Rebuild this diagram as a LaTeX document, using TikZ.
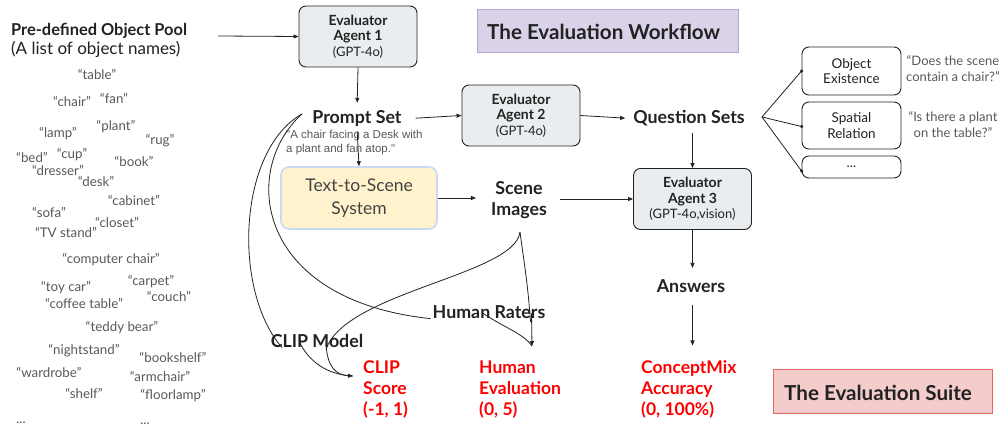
\documentclass[tikz,border=0pt]{standalone}
\usepackage{fontspec}
\setmainfont{Lato}
\newfontfamily\arialf{Liberation Sans}
\usetikzlibrary{arrows.meta}
\definecolor{agentfill}{HTML}{E9EDEF}
\definecolor{labcol}{HTML}{222222}
\definecolor{objcol}{HTML}{595959}
\definecolor{tsfill}{HTML}{FFF2CC}
\definecolor{tsborder}{HTML}{C9DAF8}
\definecolor{tstext}{HTML}{434343}
\definecolor{wffill}{HTML}{D9D2E9}
\definecolor{wfborder}{HTML}{B4A7D6}
\definecolor{sufill}{HTML}{F4CCCC}
\definecolor{suborder}{HTML}{E06666}
\definecolor{redtxt}{HTML}{FF0000}
\newcommand{\agb}[1]{{\bfseries\fontsize{14}{15.5}\selectfont #1}}
\newcommand{\agr}[1]{{\fontsize{13}{15.5}\selectfont #1}}
\begin{document}
\begin{tikzpicture}[x=1pt,y=-1pt,
  arr/.style={-{Triangle[length=5pt,width=4pt]}, line width=0.8pt, draw=labcol},
  con/.style={line width=0.8pt, draw=labcol},
  agent/.style={draw=labcol, fill=agentfill, rounded corners=7pt, line width=0.9pt,
    minimum width=118pt, minimum height=61pt, align=center, text=labcol,
    font=\fontsize{13}{15.5}\selectfont},
  rbox/.style={draw=labcol, fill=white, rounded corners=7pt, line width=0.9pt,
    minimum width=99pt, align=center, text=labcol, font=\fontsize{13.5}{15.5}\selectfont},
  lab/.style={inner sep=0pt, text=labcol, align=center, font=\bfseries\fontsize{17.8}{21}\selectfont},
  redlab/.style={inner sep=0pt, text=redtxt, align=left, anchor=north west, font=\bfseries\fontsize{17.5}{21}\selectfont},
  obj/.style={inner sep=0pt, anchor=base, text=objcol, font=\fontsize{13.3}{14}\selectfont},
  rq/.style={inner sep=0pt, align=center, anchor=north, text=objcol, font=\fontsize{13}{16}\selectfont},
  title/.style={inner sep=0pt, anchor=west, text=labcol, font=\bfseries\fontsize{20.6}{24}\selectfont},
  dot/.style={circle, fill=labcol, inner sep=0pt, minimum size=3.4pt}
]
\useasboundingbox (0,0) rectangle (1002,427);
\fill[white] (0,0) rectangle (1002,427);

% title boxes
\node[draw=wfborder, fill=wffill, line width=0.8pt, minimum width=261pt, minimum height=43pt, inner sep=0pt] (wfbox) at (607.5,30.5) {};
\node[title] (wf) at (487,31.5) {The Evaluation Workflow};
\node[draw=suborder, fill=sufill, line width=0.8pt, minimum width=219pt, minimum height=44pt, inner sep=0pt] (subox) at (882.5,391) {};
\node[title] (su) at (784,392.5) {The Evaluation Suite};

% object pool
\node[inner sep=0pt, anchor=north west, align=left, text=labcol, font=\fontsize{17}{19}\selectfont] (pool) at (11,23.5)
  {{\bfseries\fontsize{16.4}{19}\selectfont Pre-defined Object Pool}\\(A list of object names)};

\node[obj] (o1) at (97,79.5) {“table”};
\node[obj] (o2) at (72,106.5) {“chair”};
\node[obj] (o3) at (114,103.5) {“fan”};
\node[obj] (o4) at (58,137.5) {“lamp”};
\node[obj] (o5) at (116,130.5) {“plant”};
\node[obj] (o6) at (160,144.5) {“rug”};
\node[obj] (o7) at (32,162.5) {“bed”};
\node[obj] (o8) at (72,158.5) {“cup”};
\node[obj] (o9) at (58,175.5) {“dresser”};
\node[obj] (o10) at (134,166.5) {“book”};
\node[obj] (o11) at (96,186.5) {“desk”};
\node[obj] (o12) at (134,205.5) {“cabinet”};
\node[obj] (o13) at (49,217.5) {“sofa”};
\node[obj] (o14) at (117,227.5) {“closet”};
\node[obj] (o15) at (66,237.5) {“TV stand”};
\node[obj] (o16) at (111,263.5) {“computer chair”};
\node[obj] (o17) at (66,291.5) {“toy car”};
\node[obj] (o18) at (151,285.5) {“carpet”};
\node[obj] (o19) at (84,308.5) {“coffee table”};
\node[obj] (o20) at (169,301.5) {“couch”};
\node[obj] (o21) at (122,331.5) {“teddy bear”};
\node[obj] (o22) at (84,354.5) {“nightstand”};
\node[obj] (o23) at (173,362.5) {“bookshelf”};
\node[obj] (o24) at (49,377.5) {“wardrobe”};
\node[obj] (o25) at (160,381.5) {“armchair”};
\node[obj] (o26) at (84,398.5) {“shelf”};
\node[obj] (o27) at (173,399.5) {“floorlamp”};
\node[obj] (o28) at (21,424) {...};
\node[obj] (o29) at (145,425) {...};

% agents
\node[agent] (ag1) at (358,36.5) {\agb{Evaluator}\\\agb{Agent 1}\\\agr{(GPT-4o)}};
\node[agent] (ag2) at (521,115.5) {\agb{Evaluator}\\\agb{Agent 2}\\\agr{(GPT-4o)}};
\node[agent] (ag3) at (692.5,199) {\agb{Evaluator}\\\agb{Agent 3}\\\agr{(GPT-4o,vision)}};

% labels
\node[lab, anchor=base] (prompt) at (357,124) {Prompt Set};
\node[inner sep=0pt, anchor=north west, align=left, text=objcol, font=\arialf\fontsize{11.5}{14.5}\selectfont] (pq) at (286,129.5)
  {"A chair facing a Desk with\\a plant and fan atop."};
\node[draw=tsborder, fill=tsfill, line width=1.6pt, rounded corners=8pt, minimum width=156pt, minimum height=62pt,
  align=center, text=tstext, font=\fontsize{17.5}{23}\selectfont] (t2s) at (359,198) {Text-to-Scene\\System};
\node[lab, anchor=north] (scene) at (519,181.5) {Scene\\Images};
\node[lab, anchor=base] (qs) at (689,124) {Question Sets};
\node[lab, anchor=base] (ans) at (691,293) {Answers};
\node[lab, anchor=base] (hr) at (489,319) {Human Raters};
\node[lab, anchor=base] (clip) at (317,348) {CLIP Model};

\node[redlab] (cs) at (363,360.5) {CLIP\\Score\\(-1, 1)};
\node[redlab] (he) at (479,360.5) {Human\\Evaluation\\(0, 5)};
\node[redlab] (cm) at (641,360.5) {ConceptMix\\Accuracy\\(0, 100\%)};

% right boxes
\node[rbox, minimum height=48pt] (oe) at (851.5,71) {Object\\Existence};
\node[rbox, minimum height=47pt] (sr) at (851.5,125.5) {Spatial\\Relation};
\node[rbox, minimum height=22pt] (dd) at (851.5,167) {...};
\node[rq] (q1) at (953,55) {“Does the scene\\contain a chair?”};
\node[rq] (q2) at (953,111) {“Is there a plant\\on the table?”};

% straight arrows
\coordinate (poolend) at (218,36);
\draw[arr] (poolend) -- (ag1.west);
\draw[arr, shorten >=8pt] (ag1.south) -- (prompt.north);
\draw[arr, shorten <=4pt] (prompt.south) -- (t2s.north);
\draw[arr, shorten <=14pt] (prompt.east) -- (ag2.west);
\draw[arr, shorten >=8pt] (ag2.east) -- (qs.west);
\draw[arr, shorten <=6pt] (qs.south -| ag3.north) -- (ag3.north);
\draw[arr] (t2s.east) -- ([xshift=-15pt]scene.west |- t2s.east);
\draw[arr, shorten <=13pt] (scene.east |- ag3.west) -- (ag3.west);
\draw[arr, shorten >=12pt] (ag3.south) -- (ans.north -| ag3.south);
\draw[arr, shorten <=12pt, shorten >=15pt] (ans.south -| ag3.south) -- (cm.north -| ag3.south);

% fan to right boxes
\coordinate (fan) at (762,117);
\draw[con] (fan) -- (oe.west) node[dot] {};
\draw[con] (fan) -- ([yshift=-1pt]sr.west) node[dot] {};
\draw[con] (fan) -- ([yshift=-4pt]dd.west) node[dot] {};

% curves
\coordinate (pl) at (302,114);
\coordinate (sb) at (520,232);
\coordinate (hrtip) at (532,346);
\coordinate (cstip) at (353,376);
\draw[con] (pl) .. controls (238,150) and (232,290) .. ([xshift=-35pt,yshift=-13pt]clip.north);
\draw[con] (pl) .. controls (240,170) and (255,300) .. ([xshift=-2pt,yshift=-6pt]hr.west);
\draw[con] (sb) .. controls (515,275) and (345,292) .. ([xshift=9pt,yshift=-15pt]clip.north);
\draw[con] (sb) .. controls (524,262) and (528,285) .. ([xshift=-15pt,yshift=-16pt]hr.north east);
\draw[con] ([xshift=-6pt,yshift=6pt]hr.south) .. controls (505,328) and (524,334) .. (hrtip);
\draw[arr] ([xshift=-14pt,yshift=6pt]hr.south east) -- (hrtip);
\draw[con] ([xshift=-17pt,yshift=5pt]clip.south) .. controls (312,366) and (332,375) .. (cstip);
\draw[arr] ([xshift=9pt,yshift=5pt]clip.south) .. controls (327,367) and (336,375) .. (cstip);
\end{tikzpicture}
\end{document}
